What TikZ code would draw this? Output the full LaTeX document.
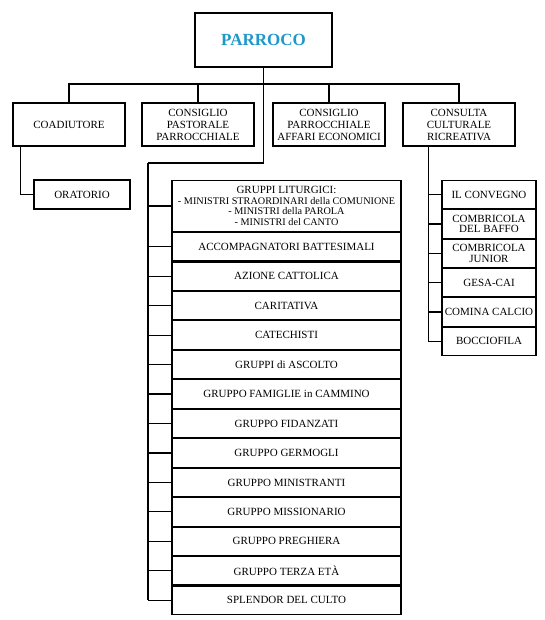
\documentclass[tikz,border=0pt]{standalone}
\usepackage{fontspec}
\setmainfont{Liberation Serif}
\definecolor{parblue}{RGB}{30,152,200}
\begin{document}
\begin{tikzpicture}[x=1pt,y=-1pt,
  box/.style={draw,line width=1.1pt,inner sep=0pt,align=center,font=\fontsize{11}{12}\selectfont},
  lbox/.style={box,minimum width=229pt,minimum height=28.4pt},
  rbox/.style={box,minimum width=94pt,minimum height=28.3pt,font=\fontsize{11}{10.5}\selectfont},
  topbox/.style={box,minimum width=112pt,minimum height=43pt},
  conn/.style={line width=1.1pt}]
\useasboundingbox (0,0) rectangle (545,620);
% top
\node[box,minimum width=137pt,minimum height=54pt,font=\fontsize{17}{18}\selectfont\bfseries,text=parblue] (par) at (263.5,40) {PARROCO};
\node[topbox] (coad) at (69,124.5) {COADIUTORE};
\node[topbox] (cpp) at (198,124.5) {CONSIGLIO\\PASTORALE\\PARROCCHIALE};
\node[topbox] (cpae) at (329,124.5) {CONSIGLIO\\PARROCCHIALE\\AFFARI ECONOMICI};
\node[topbox] (ccr) at (459,124.5) {CONSULTA\\CULTURALE\\RICREATIVA};
\node[box,minimum width=96pt,minimum height=29pt] (ora) at (82,194.5) {ORATORIO};
% bus
\coordinate (bus) at (264,84);
\coordinate (lc) at (148,163);
\draw[conn] (coad.north) -- (coad.north |- bus) -- (ccr.north |- bus) -- (ccr.north);
\draw[conn] (cpp.north) -- (cpp.north |- bus);
\draw[conn] (cpae.north) -- (cpae.north |- bus);
\draw[conn] (par.south) -- (par.south |- lc) -- (lc);
\draw[conn] ([xshift=8pt]coad.south west) |- (ora.west);
% left column
\node[box,minimum width=229pt,minimum height=50.9pt] (gl) at (286.5,206) {GRUPPI LITURGICI:\\[-1.5pt]{\fontsize{10.2}{10.5}\selectfont - MINISTRI STRAORDINARI della COMUNIONE}\\[-1.5pt]{\fontsize{10.2}{10.5}\selectfont - MINISTRI della PAROLA}\\[-1.5pt]{\fontsize{10.2}{10.5}\selectfont - MINISTRI del CANTO}};
\draw[conn] (gl.west -| lc) -- (gl.west);
\foreach \t [count=\i] in {{ACCOMPAGNATORI BATTESIMALI},{AZIONE CATTOLICA},{CARITATIVA},{CATECHISTI},{GRUPPI di ASCOLTO},{GRUPPO FAMIGLIE in CAMMINO},{GRUPPO FIDANZATI},{GRUPPO GERMOGLI},{GRUPPO MINISTRANTI},{GRUPPO MISSIONARIO},{GRUPPO PREGHIERA},{GRUPPO TERZA ETÀ},{SPLENDOR DEL CULTO}}{
  \node[lbox] (l\i) at (286.5,{232+29.46*(\i-0.5)}) {\t};
  \draw[conn] (l\i.west -| lc) -- (l\i.west);
}
\draw[conn] (lc) -- (l13.west -| lc);
% right column
\foreach \t [count=\i] in {{IL CONVEGNO},{COMBRICOLA\\DEL BAFFO},{COMBRICOLA\\JUNIOR},{GESA-CAI},{COMINA CALCIO},{BOCCIOFILA}}{
  \node[rbox] (r\i) at (489,{180+29.33*(\i-0.5)}) {\t};
  \draw[conn] (r\i.west) -- ++(-13,0);
}
\draw[conn] ([xshift=26pt]ccr.south west) -- ([xshift=26pt]ccr.south west |- r6.west) -- (r6.west);
\end{tikzpicture}
\end{document}
